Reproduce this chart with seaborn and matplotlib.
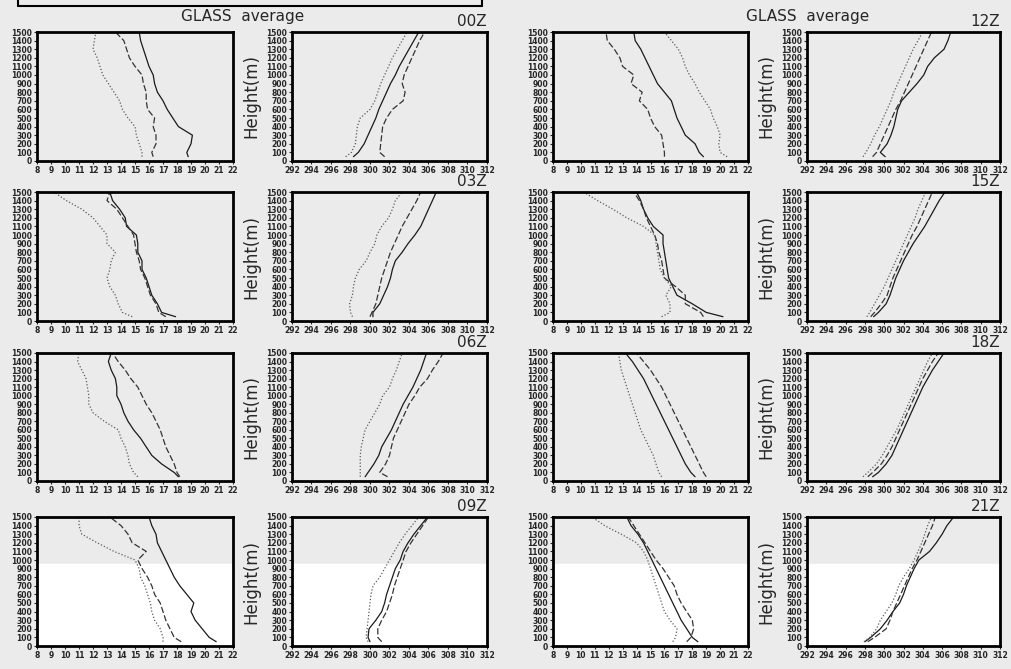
import numpy as np
import pandas as pd
import seaborn as sns
import matplotlib.pyplot as plt

# heights (m) where profiles were read
heights = [50, 100, 200, 300, 400, 500, 600, 700, 800, 900, 1000, 1100, 1200, 1300, 1400, 1500]

# mixing ratio (g/kg): solid, dashed, dotted
q_00 = [[18.8, 18.7, 19.0, 19.1, 18.1, 17.7, 17.3, 17.0, 16.6, 16.4, 16.3, 16.0, 15.8, 15.6, 15.4, 15.3],
        [16.3, 16.2, 16.5, 16.5, 16.3, 16.4, 15.9, 15.8, 15.8, 15.6, 15.5, 15.0, 14.6, 14.4, 14.2, 13.6],
        [15.5, 15.5, 15.3, 15.1, 15.0, 14.5, 14.1, 13.9, 13.5, 13.1, 12.7, 12.5, 12.3, 12.0, 12.1, 12.2]]
q_03 = [[17.9, 16.9, 16.6, 16.2, 16.0, 15.8, 15.5, 15.5, 15.2, 15.2, 15.1, 14.4, 14.3, 13.9, 13.4, 13.2],
        [17.2, 16.7, 16.5, 16.1, 15.9, 15.7, 15.4, 15.3, 15.1, 15.0, 14.9, 14.5, 14.1, 13.7, 13.0, 13.2],
        [14.8, 14.1, 13.8, 13.6, 13.2, 13.0, 13.2, 13.3, 13.6, 13.0, 13.0, 12.5, 12.0, 11.2, 10.1, 9.2]]
q_06 = [[18.1, 17.8, 16.9, 16.2, 15.8, 15.4, 14.9, 14.5, 14.2, 14.0, 13.7, 13.7, 13.6, 13.3, 13.1, 13.3],
        [18.2, 18.0, 17.8, 17.5, 17.2, 17.0, 16.8, 16.5, 16.2, 15.8, 15.5, 15.2, 14.7, 14.3, 13.8, 13.4],
        [15.2, 14.9, 14.6, 14.5, 14.3, 14.0, 13.8, 12.8, 12.0, 11.7, 11.7, 11.6, 11.5, 11.2, 10.9, 11.0]]
q_09 = [[20.8, 20.3, 19.8, 19.3, 19.0, 19.2, 18.7, 18.2, 17.8, 17.5, 17.2, 16.9, 16.6, 16.5, 16.2, 16.0],
        [18.3, 17.8, 17.5, 17.2, 17.0, 16.8, 16.4, 16.2, 15.9, 15.5, 15.2, 15.8, 14.8, 14.5, 14.0, 13.2],
        [17.0, 17.0, 16.8, 16.4, 16.2, 16.1, 15.9, 15.7, 15.4, 15.3, 15.0, 13.5, 12.3, 11.2, 11.0, 11.0]]
q_12 = [[18.8, 18.5, 18.2, 17.5, 17.2, 16.9, 16.7, 16.5, 16.0, 15.5, 15.2, 14.9, 14.6, 14.3, 13.9, 13.8],
        [16.0, 16.0, 15.9, 15.8, 15.3, 15.0, 14.8, 14.2, 14.4, 13.6, 13.8, 13.0, 12.8, 12.4, 11.9, 11.8],
        [20.5, 20.0, 19.9, 20.0, 19.8, 19.5, 19.3, 18.9, 18.5, 18.2, 17.8, 17.5, 17.3, 17.0, 16.5, 16.0]]
q_15 = [[20.2, 19.0, 18.0, 16.9, 16.6, 16.3, 16.2, 16.1, 16.0, 15.9, 15.9, 15.2, 14.8, 14.5, 14.3, 14.0],
        [18.8, 18.6, 17.5, 17.5, 16.8, 16.0, 15.9, 15.8, 15.6, 15.5, 15.3, 15.0, 14.7, 14.5, 14.2, 13.8],
        [15.8, 16.4, 16.4, 16.1, 16.5, 16.0, 15.7, 15.6, 15.5, 15.4, 15.3, 14.5, 13.3, 12.3, 11.2, 10.2]]
q_18 = [[18.2, 17.9, 17.5, 17.2, 16.9, 16.6, 16.3, 16.0, 15.7, 15.4, 15.1, 14.8, 14.5, 14.1, 13.7, 13.2],
        [19.0, 18.8, 18.5, 18.2, 17.9, 17.6, 17.3, 17.0, 16.7, 16.4, 16.1, 15.8, 15.4, 15.0, 14.5, 14.0],
        [15.8, 15.6, 15.4, 15.2, 14.9, 14.6, 14.3, 14.1, 13.9, 13.7, 13.5, 13.3, 13.1, 12.9, 12.8, 12.7]]
q_21 = [[18.4, 18.0, 17.6, 17.2, 16.9, 16.6, 16.3, 16.0, 15.7, 15.4, 15.1, 14.8, 14.5, 14.1, 13.6, 13.3],
        [17.6, 17.9, 18.1, 18.0, 17.6, 17.2, 16.9, 16.7, 16.3, 15.9, 15.4, 15.0, 14.6, 14.2, 13.8, 13.4],
        [16.6, 16.8, 16.9, 16.4, 16.0, 15.8, 15.6, 15.4, 15.2, 15.0, 14.8, 14.5, 14.0, 12.9, 11.7, 10.8]]

# potential temperature (K): solid, dashed, dotted
th_00 = [[298.3, 298.8, 299.4, 299.8, 300.2, 300.6, 300.9, 301.3, 301.7, 302.1, 302.6, 303.0, 303.5, 304.0, 304.5, 305.0],
         [301.5, 301.0, 301.1, 301.2, 301.3, 301.7, 302.3, 303.4, 303.6, 303.3, 303.5, 303.9, 304.3, 304.7, 305.1, 305.6],
         [297.5, 298.1, 298.5, 298.6, 298.7, 299.0, 300.0, 300.5, 300.8, 301.1, 301.5, 301.9, 302.3, 302.8, 303.3, 303.8]]
th_03 = [[300.3, 300.3, 301.0, 301.4, 301.8, 302.1, 302.3, 302.6, 303.3, 303.9, 304.6, 305.2, 305.6, 306.0, 306.4, 306.8],
         [300.0, 300.2, 300.6, 300.8, 301.0, 301.2, 301.5, 301.8, 302.1, 302.5, 302.9, 303.3, 303.8, 304.3, 304.8, 305.2],
         [298.2, 298.0, 297.9, 298.2, 298.3, 298.5, 298.9, 299.6, 300.0, 300.5, 300.7, 301.2, 301.9, 302.3, 302.6, 303.3]]
th_06 = [[299.5, 299.8, 300.4, 300.9, 301.2, 301.7, 302.2, 302.6, 303.0, 303.4, 303.9, 304.4, 304.8, 305.2, 305.5, 305.8],
         [301.8, 301.0, 301.6, 302.0, 302.2, 302.4, 302.8, 303.2, 303.6, 304.0, 304.6, 305.1, 305.9, 306.4, 307.0, 307.5],
         [299.0, 299.0, 299.0, 299.0, 299.1, 299.3, 299.5, 300.0, 300.5, 301.0, 301.3, 302.0, 302.3, 302.7, 303.0, 303.3]]
th_09 = [[300.0, 299.8, 299.9, 300.6, 301.2, 301.5, 301.7, 302.0, 302.3, 302.6, 303.1, 303.4, 303.9, 304.5, 305.2, 305.9],
         [301.2, 300.8, 300.8, 301.2, 301.7, 302.0, 302.3, 302.5, 302.8, 303.1, 303.4, 303.7, 304.2, 304.8, 305.4, 306.0],
         [299.8, 299.6, 299.7, 299.8, 299.9, 300.0, 300.1, 300.3, 301.0, 301.5, 302.0, 302.5, 303.0, 303.6, 304.3, 305.0]]
th_12 = [[300.1, 299.6, 300.3, 300.7, 301.0, 301.2, 301.4, 301.8, 302.6, 303.4, 304.1, 304.5, 305.2, 306.2, 306.6, 306.9],
         [298.8, 299.2, 299.6, 300.0, 300.4, 300.8, 301.2, 301.7, 302.1, 302.5, 302.9, 303.3, 303.7, 304.1, 304.5, 304.9],
         [297.8, 298.1, 298.6, 299.0, 299.5, 299.9, 300.3, 300.7, 301.0, 301.4, 301.8, 302.2, 302.6, 303.0, 303.5, 304.0]]
th_15 = [[298.9, 299.4, 300.2, 300.6, 300.9, 301.2, 301.6, 302.0, 302.5, 303.0, 303.6, 304.2, 304.7, 305.2, 305.7, 306.3],
         [298.6, 299.0, 299.7, 300.3, 300.6, 300.9, 301.3, 301.7, 302.1, 302.5, 302.9, 303.4, 303.8, 304.2, 304.6, 305.0],
         [298.2, 298.5, 299.0, 299.5, 300.0, 300.4, 300.8, 301.2, 301.6, 302.0, 302.4, 302.8, 303.2, 303.5, 303.9, 304.3]]
th_18 = [[298.8, 299.4, 300.2, 300.8, 301.2, 301.6, 302.0, 302.4, 302.8, 303.2, 303.6, 304.0, 304.5, 305.0, 305.6, 306.2],
         [298.3, 298.8, 299.7, 300.3, 300.8, 301.2, 301.6, 302.0, 302.4, 302.8, 303.2, 303.6, 304.0, 304.5, 305.0, 305.6],
         [297.8, 298.3, 299.2, 299.8, 300.3, 300.8, 301.3, 301.7, 302.1, 302.5, 302.9, 303.3, 303.7, 304.1, 304.5, 305.0]]
th_21 = [[298.0, 298.6, 299.6, 300.3, 300.9, 301.6, 302.0, 302.3, 302.7, 303.1, 303.6, 304.7, 305.4, 306.0, 306.5, 307.2],
         [298.3, 299.0, 300.2, 300.6, 300.9, 301.3, 301.7, 302.1, 302.5, 302.9, 303.4, 303.8, 304.2, 304.6, 305.0, 305.3],
         [297.9, 298.5, 299.2, 299.6, 300.2, 300.8, 301.2, 301.5, 302.0, 302.6, 303.1, 303.5, 303.9, 304.2, 304.5, 304.9]]

times = ["00Z", "03Z", "06Z", "09Z", "12Z", "15Z", "18Z", "21Z"]
q_all = [q_00, q_03, q_06, q_09, q_12, q_15, q_18, q_21]
th_all = [th_00, th_03, th_06, th_09, th_12, th_15, th_18, th_21]

line_names = ["a", "b", "c"]
dash_map = {"a": "", "b": (5, 2), "c": (1, 1.6)}
color_map = {"a": "#1a1a1a", "b": "#333333", "c": "#5a5a5a"}

bg = "#ebebeb"
sns.set_style("white")
plt.rcParams["font.family"] = ["DejaVu Sans"]

fig = plt.figure(figsize=(10.11, 6.69), dpi=100, facecolor=bg)
W, H = 1011.0, 669.0

col_px = [(37, 233), (292, 487), (553, 748), (807, 1000)]
row_px = [(32, 161), (192, 321), (353, 481), (517, 646)]


def frame(vals):
    rows = []
    for name, v in zip(line_names, vals):
        for h, x in zip(heights, v):
            rows.append({"x": x, "z": h, "line": name})
    return pd.DataFrame(rows)


def draw(ax, vals, xlim, xticks):
    ax.set_facecolor(bg)
    df = frame(vals)
    sns.lineplot(data=df, x="x", y="z", hue="line", style="line", dashes=dash_map,
                 palette=color_map, sort=False, estimator=None, lw=0.9,
                 legend=False, ax=ax)
    ax.set_xlim(*xlim)
    ax.set_ylim(0, 1500)
    ax.set_xticks(xticks)
    ax.set_yticks(range(0, 1501, 100))
    ax.tick_params(axis="both", labelsize=5.5, length=2.5, width=0.8, pad=1,
                   direction="out", left=True, bottom=True)
    for lab in ax.get_xticklabels() + ax.get_yticklabels():
        lab.set_fontweight("bold")
    for s in ax.spines.values():
        s.set_linewidth(2.0)
        s.set_color("black")
    ax.set_xlabel("")
    ax.set_ylabel("")


for i in range(8):
    r = i % 4
    c0 = 0 if i < 4 else 2
    top, bot = row_px[r]
    for k, (vals, xlim, xticks) in enumerate([
            (q_all[i], (8, 22), list(range(8, 23))),
            (th_all[i], (292, 312), list(range(292, 313, 2)))]):
        l, rgt = col_px[c0 + k]
        ax = fig.add_axes([l / W, 1 - bot / H, (rgt - l) / W, (bot - top) / H])
        draw(ax, vals, xlim, xticks)
        if r == 3:
            ax.axhspan(0, 950, color="white", zorder=0)
        if k == 1:
            ax.set_ylabel("Height(m)", fontsize=12, labelpad=4)
            ax.text(1.0, 1.02, times[i], transform=ax.transAxes, ha="right",
                    va="bottom", fontsize=11)

# titles
fig.text(243 / W, 1 - 17 / H, "GLASS  average", ha="center", va="center", fontsize=11)
fig.text(808 / W, 1 - 17 / H, "GLASS  average", ha="center", va="center", fontsize=11)

# partial box at the top
fig.add_artist(plt.Line2D([18 / W, 482 / W], [1 - 6 / H, 1 - 6 / H], color="black", lw=1.5))
fig.add_artist(plt.Line2D([18 / W, 18 / W], [1, 1 - 6 / H], color="black", lw=1.5))
fig.add_artist(plt.Line2D([482 / W, 482 / W], [1, 1 - 6 / H], color="black", lw=1.5))

fig.savefig("out.png", dpi=100, facecolor=bg)
